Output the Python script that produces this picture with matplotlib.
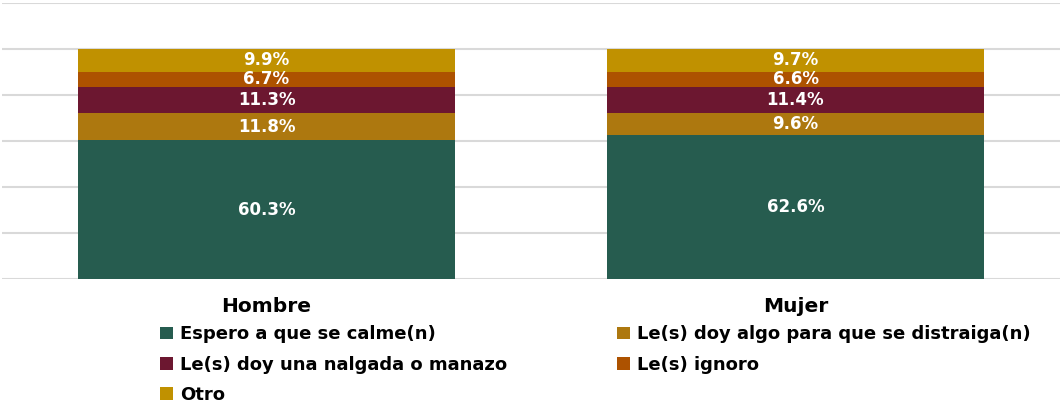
import matplotlib
matplotlib.use("Agg")
import matplotlib.pyplot as plt
import numpy as np

plt.rcParams['font.family'] = ['DejaVu Sans']

# datos
categorias = ["Hombre", "Mujer"]
series = ["Espero a que se calme(n)",
          "Le(s) doy algo para que se distraiga(n)",
          "Le(s) doy una nalgada o manazo",
          "Le(s) ignoro",
          "Otro"]
espero = [60.3, 62.6]
distraiga = [11.8, 9.6]
nalgada = [11.3, 11.4]
ignoro = [6.7, 6.6]
otro = [9.9, 9.7]
valores = [espero, distraiga, nalgada, ignoro, otro]
colores = ["#265C4F", "#AD780F", "#6C1730", "#AD5200", "#C09100"]

fig = plt.figure(figsize=(10.63, 4.03), dpi=100)
ax = fig.add_axes([2/1063, 1 - 279/403, 1058/1063, 276/403])

x = np.arange(len(categorias))
bottom = np.zeros(len(categorias))
barras = []
for vals, col, nombre in zip(valores, colores, series):
    b = ax.bar(x, vals, 0.713, bottom=bottom, color=col, label=nombre, zorder=3)
    barras.append(b)
    for xi, v, bt in zip(x, vals, bottom):
        ax.text(xi, bt + v / 2, f"{v:.1f}%", ha="center", va="center",
                color="white", fontsize=12, fontweight="bold", zorder=4)
    bottom += np.array(vals)

ax.set_xlim(-0.5, 1.5)
ax.set_ylim(0, 120)
ax.set_yticks(np.arange(0, 121, 20))
ax.yaxis.grid(True, color="#d9d9d9", linewidth=1.5, zorder=0)
ax.set_yticklabels([])
ax.tick_params(length=0)
for s in ax.spines.values():
    s.set_visible(False)
ax.set_xticks(x)
ax.set_xticklabels(categorias, fontsize=14.5, fontweight="bold")
ax.tick_params(axis="x", pad=13)

# orden de la leyenda: filas
orden = [0, 2, 4, 1, 3]
leg = fig.legend([barras[i] for i in orden], [series[i] for i in orden],
                 ncol=2, loc="upper left", bbox_to_anchor=(153/1063, 1 - 318/403),
                 frameon=False, prop={"weight": "bold", "size": 13},
                 handlelength=0.7, handleheight=0.7, handletextpad=0.4,
                 columnspacing=6.1, labelspacing=0.68, borderaxespad=0)

fig.savefig("out.png", dpi=100)
